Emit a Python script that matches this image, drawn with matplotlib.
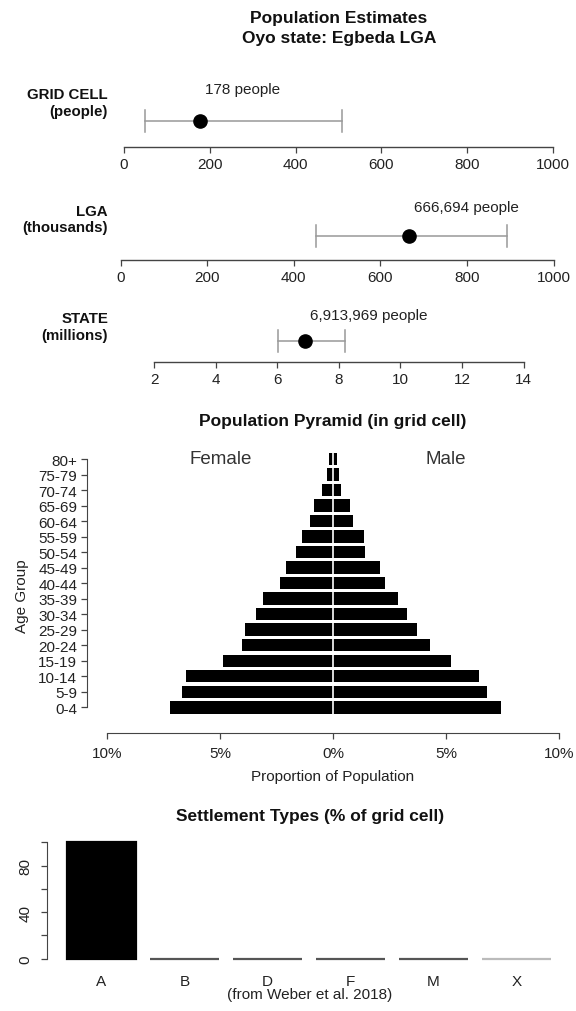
import matplotlib
matplotlib.use("Agg")
import matplotlib.pyplot as plt

plt.rcParams['font.family'] = ['Liberation Sans', 'DejaVu Sans']

# ---- data ----
est_labels = ["GRID CELL\n(people)", "LGA\n(thousands)", "STATE\n(millions)"]
est_mean = [178, 666.694, 6.913969]
est_lower = [50, 452, 6.01]
est_upper = [507, 893, 8.2]
est_text = ["178 people", "666,694 people", "6,913,969 people"]
est_ticks = [[0, 200, 400, 600, 800, 1000],
             [0, 200, 400, 600, 800, 1000],
             [2, 4, 6, 8, 10, 12, 14]]

age_groups = ["0-4", "5-9", "10-14", "15-19", "20-24", "25-29", "30-34", "35-39",
              "40-44", "45-49", "50-54", "55-59", "60-64", "65-69", "70-74",
              "75-79", "80+"]
female_pct = [7.21, 6.71, 6.53, 4.90, 4.04, 3.89, 3.42, 3.09, 2.36, 2.07,
              1.63, 1.38, 1.01, 0.85, 0.49, 0.28, 0.20]
male_pct = [7.43, 6.81, 6.48, 5.24, 4.28, 3.71, 3.27, 2.88, 2.31, 2.08,
            1.42, 1.35, 0.90, 0.77, 0.37, 0.24, 0.16]
pyr_ticks = [-10, -5, 0, 5, 10]
pyr_ticklabels = ["10%", "5%", "0%", "5%", "10%"]

settle_types = ["A", "B", "D", "F", "M", "X"]
settle_pct = [100, 0, 0, 0, 0, 0]

# ---- figure helpers ----
W, H = 576, 1012
fig = plt.figure(figsize=(W / 100, H / 100), dpi=100)
INK = "#222222"
AXC = "#444444"
TICK_FS = 11
TITLE_FS = 12.5


def axes_px(left, top, right, bottom):
    return fig.add_axes([left / W, 1 - bottom / H, (right - left) / W, (bottom - top) / H])


def ftext(x, y, s, **kw):
    fig.text(x / W, 1 - y / H, s, **kw)


def clean(ax):
    for s in ax.spines.values():
        s.set_visible(False)
    ax.patch.set_alpha(0)


# ---- title ----
ftext(339, 18, "Population Estimates", ha="center", va="center",
      fontsize=TITLE_FS, fontweight="bold", color="#111")
ftext(339, 38, "Oyo state: Egbeda LGA", ha="center", va="center",
      fontsize=TITLE_FS, fontweight="bold", color="#111")

# ---- estimate panels ----
# (x px of first tick, x px of last tick, axis row, errorbar row, label rows)
panels = [
    (124, 553, 148, 121.7, 95, 112, 90),
    (120.5, 553.8, 260.7, 236.7, 212, 228, 208),
    (154.3, 523.5, 363, 341.7, 319, 336, 316.5),
]
for i, (x0, x1, yax, yerr, yl1, yl2, ytxt) in enumerate(panels):
    ticks = est_ticks[i]
    ax = axes_px(x0, yax - 60, x1, yax)
    clean(ax)
    ax.set_xlim(ticks[0], ticks[-1])
    ax.set_ylim(yax, yax - 60)
    ax.spines['bottom'].set_visible(True)
    ax.spines['bottom'].set_color(AXC)
    ax.spines['bottom'].set_linewidth(1.0)
    ax.set_xticks(ticks)
    ax.set_xticklabels([str(t) for t in ticks])
    ax.tick_params(axis='x', direction='out', length=4, width=0.9, color=AXC,
                   labelsize=TICK_FS, labelcolor=INK, pad=3.5)
    ax.set_yticks([])
    # interval with end caps
    ax.plot([est_lower[i], est_upper[i]], [yerr, yerr], color="#999999", lw=1.1,
            clip_on=False)
    for v in (est_lower[i], est_upper[i]):
        ax.plot([v, v], [yerr - 11, yerr + 11], color="#999999", lw=1.1, clip_on=False)
    ax.plot([est_mean[i]], [yerr], 'o', color="black", ms=9.5, clip_on=False)
    ax.annotate(est_text[i], xy=(est_mean[i], yerr), xytext=(5, yerr - ytxt),
                textcoords="offset pixels", ha="left", va="center",
                fontsize=TICK_FS, color=INK)
    top, bottom = est_labels[i].split("\n")
    ftext(108, yl1, top, ha="right", va="center", fontsize=10.8,
          fontweight="bold", color="#111")
    ftext(108, yl2, bottom, ha="right", va="center", fontsize=10.8,
          fontweight="bold", color="#111")

# ---- population pyramid ----
px_per_pct = (558.8 - 107.4) / 20
row_step = (708.3 - 460) / 16
left_px, right_px, top_px, bot_px = 87, 565, 450, 734
axp = axes_px(left_px, top_px, right_px, bot_px)
clean(axp)
axp.set_xlim(-10 - (107.4 - left_px) / px_per_pct, 10 + (right_px - 558.8) / px_per_pct)
axp.set_ylim(-(bot_px - 708.3) / row_step, 16 + (460 - top_px) / row_step)
ypos = list(range(len(age_groups)))
axp.barh(ypos, [-v for v in female_pct], height=0.8, color="black", edgecolor="none")
axp.barh(ypos, male_pct, height=0.8, color="black", edgecolor="none")
axp.axvline(0, color="white", lw=1.2)
axp.spines['left'].set_visible(True)
axp.spines['left'].set_bounds(0, 16)
axp.spines['left'].set_color(AXC)
axp.spines['bottom'].set_visible(True)
axp.spines['bottom'].set_bounds(-10, 10)
axp.spines['bottom'].set_color(AXC)
axp.set_yticks(ypos)
axp.set_yticklabels(age_groups)
axp.set_xticks(pyr_ticks)
axp.set_xticklabels(pyr_ticklabels)
axp.tick_params(axis='both', direction='out', length=4, width=0.9, color=AXC,
                labelsize=TICK_FS, labelcolor=INK)
axp.tick_params(axis='x', pad=5)
axp.tick_params(axis='y', pad=3)
axp.text(-5, 16, "Female", ha="center", va="center", fontsize=13.5, color="#333")
axp.text(5, 16, "Male", ha="center", va="center", fontsize=13.5, color="#333")
ftext(333, 421.7, "Population Pyramid (in grid cell)", ha="center", va="center",
      fontsize=TITLE_FS, fontweight="bold", color="#111")
ftext(333, 776.7, "Proportion of Population", ha="center", va="center",
      fontsize=TICK_FS, color=INK)
ftext(22, 596, "Age Group", ha="center", va="center", rotation=90,
      fontsize=TICK_FS, color=INK)

# ---- settlement types ----
px_per_unit = (516.5 - 101.3) / 6.0
px_per_val = (959.5 - 843.3) / 100
sl, sr, st, sb = 46.5, 565, 835, 959.5
axs = axes_px(sl, st, sr, sb)
clean(axs)
axs.set_xlim(-(101.3 - sl) / px_per_unit, 6 + (sr - 516.5) / px_per_unit)
axs.set_ylim(0, 100 + (843.3 - st) / px_per_val)
xpos = [1.2 * i for i in range(len(settle_types))]
edge = ["black", "#555555", "#555555", "#555555", "#555555", "#bbbbbb"]
axs.bar(xpos, settle_pct, width=1.0, color="black", edgecolor=edge,
        linewidth=1.6, clip_on=False)
axs.spines['left'].set_visible(True)
axs.spines['left'].set_bounds(0, 100)
axs.spines['left'].set_color(AXC)
axs.set_yticks([0, 20, 40, 60, 80, 100])
axs.set_yticklabels(["0", "", "40", "", "80", ""], rotation=90, va="center")
axs.tick_params(axis='y', direction='out', length=4, width=0.9, color=AXC,
                labelsize=TICK_FS, labelcolor=INK, pad=6)
axs.set_xticks(xpos)
axs.set_xticklabels(settle_types)
axs.tick_params(axis='x', length=0, labelsize=TICK_FS, labelcolor=INK, pad=11)
ftext(310, 816.7, "Settlement Types (% of grid cell)", ha="center", va="center",
      fontsize=TITLE_FS, fontweight="bold", color="#111")
ftext(310, 995, "(from Weber et al. 2018)", ha="center", va="center",
      fontsize=TICK_FS, color=INK)

fig.savefig("out.png", dpi=100, facecolor="white")
